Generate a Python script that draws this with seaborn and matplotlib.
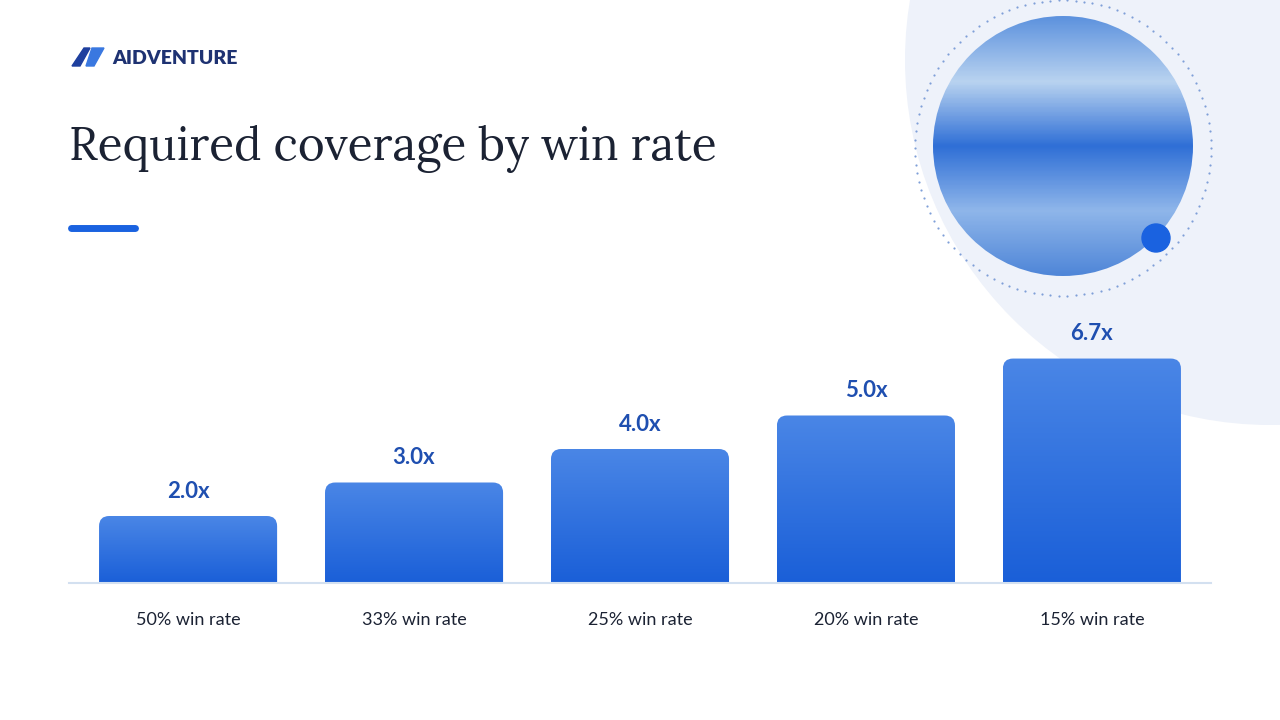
import numpy as np
import matplotlib
matplotlib.use("Agg")
import matplotlib.pyplot as plt
import seaborn as sns
from matplotlib.patches import FancyBboxPatch, Circle, Polygon
from matplotlib.colors import LinearSegmentedColormap

categories = ["50% win rate", "33% win rate", "25% win rate", "20% win rate", "15% win rate"]
values = [2.0, 3.0, 4.0, 5.0, 6.7]
labels = ["2.0x", "3.0x", "4.0x", "5.0x", "6.7x"]

sns.set_style("white")
plt.rcParams["font.family"] = ["Lato", "DejaVu Sans"]

fig = plt.figure(figsize=(12.8, 7.2), dpi=100)
fig.patch.set_facecolor("white")

bg = fig.add_axes([0, 0, 1, 1], zorder=0)
bg.set_xlim(0, 1280); bg.set_ylim(720, 0); bg.axis("off")
bg.add_patch(Circle((1270, 60), 365, color="#eef2fa", lw=0))
ang = np.linspace(0, 2*np.pi, 110, endpoint=False)
bg.scatter(1063 + 148*np.cos(ang), 148 + 148*np.sin(ang), s=2.5, color="#7f9fd8", lw=0)
yy = np.linspace(0, 1, 200)[:, None] * np.ones((1, 200))
cm = LinearSegmentedColormap.from_list("p", ["#5d92de", "#b9d3f0", "#2f6fd6", "#8fb6ea", "#4f86d8"])
im = bg.imshow(yy, extent=(933, 1193, 276, 16), cmap=cm, zorder=1, aspect="auto")
clip = Circle((1063, 146), 130, transform=bg.transData)
im.set_clip_path(clip)
bg.add_patch(Circle((1156, 238), 14, color="#1a62e0", zorder=3))

bg.add_patch(Polygon([[72, 66], [84, 48], [90, 48], [80, 66]], color="#1e3f9e"))
bg.add_patch(Polygon([[86, 66], [92, 48], [104, 48], [94, 66]], color="#3a78e0"))
fig.text(112/1280, 1-58/720, "AIDVENTURE", fontsize=14, fontweight="heavy", color="#1e3272", va="center")

fig.text(69/1280, 1-149/720, "Required coverage by win rate", fontsize=33, color="#1b2233",
         family=["Lora", "DejaVu Serif"], va="center")
bg.plot([71, 135], [228, 228], color="#1a62e0", lw=5, solid_capstyle="round")

ax = fig.add_axes([69/1280, 137/720, 1142/1280, 268/720], zorder=2)
ax.patch.set_alpha(0)
sns.barplot(x=categories, y=values, ax=ax, width=0.788, color="#2f6fe0")

grad = np.linspace(0, 1, 256)[:, None]
gcm = LinearSegmentedColormap.from_list("g", ["#1a5fd8", "#4a86e6"])
for p, v, lab in zip(list(ax.patches), values, labels):
    x0, w, h = p.get_x(), p.get_width(), p.get_height()
    p.set_visible(False)
    box = FancyBboxPatch((x0, -1), w, h + 1, boxstyle="round,pad=0,rounding_size=0.045",
                         mutation_aspect=6.75, facecolor="none", edgecolor="none")
    ax.add_patch(box)
    img = ax.imshow(grad, extent=(x0, x0 + w, 0, h), origin="lower", cmap=gcm, aspect="auto", zorder=2)
    img.set_clip_path(box)
    ax.text(x0 + w/2, h + 0.42, lab, ha="center", va="bottom", fontsize=16, fontweight="bold", color="#1f4fb0")

ax.set_xlim(-0.527, 4.527)
ax.set_ylim(0, 8)
ax.set_yticks([])
sns.despine(ax=ax, left=True)
ax.spines["bottom"].set_color("#d3e0f0")
ax.spines["bottom"].set_linewidth(1.5)
ax.tick_params(axis="x", length=0, pad=21, labelsize=13, labelcolor="#1b2233")
ax.set_xlabel(""); ax.set_ylabel("")

fig.savefig("out.png", dpi=100)
